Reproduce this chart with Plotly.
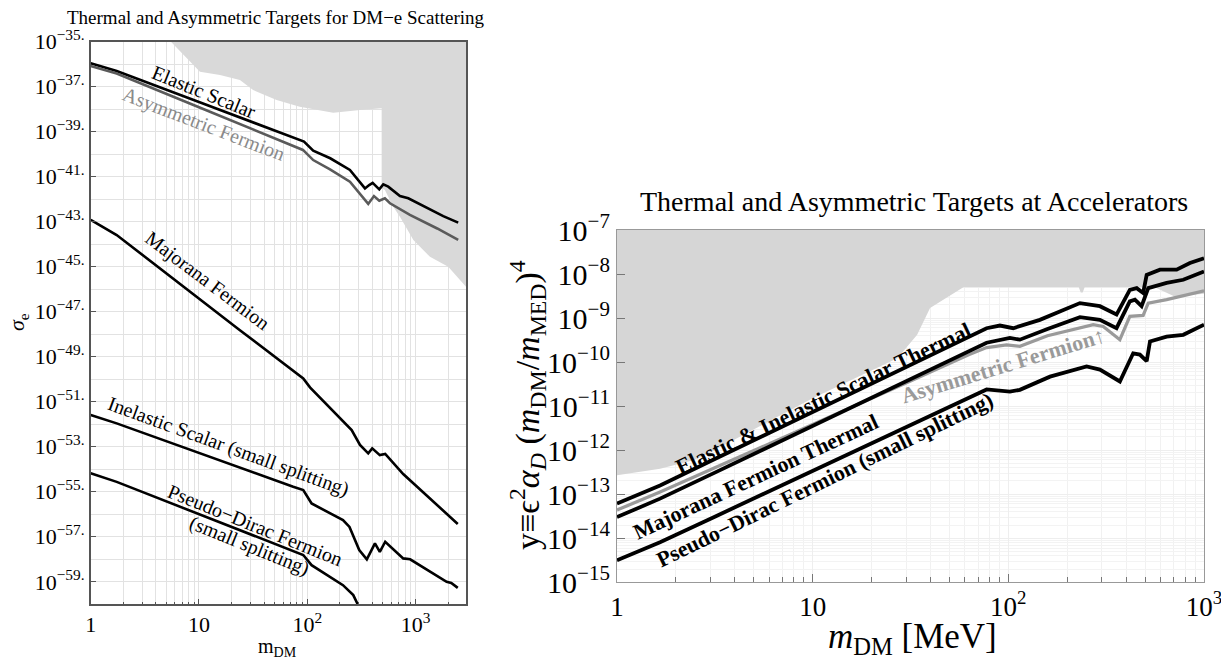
import numpy as np
import plotly.graph_objects as go

# ---------------- Left panel: sigma_e vs m_DM (values stored as log10) ----------------
elastic_logm = [0, 0.24, 1.0, 1.5, 1.87, 1.97, 2.055, 2.212, 2.394, 2.456, 2.533, 2.572, 2.604, 2.665, 2.702, 2.748, 2.856, 2.933, 3.1, 3.256, 3.394]
elastic_logs = [-35.96, -36.30, -37.68, -38.58, -39.25, -39.44, -39.84, -40.18, -40.70, -41.07, -41.52, -41.37, -41.27, -41.56, -41.34, -41.44, -41.86, -41.96, -42.36, -42.75, -43.04]

asym_logm = [0, 0.24, 1.0, 1.5, 1.87, 1.96, 2.055, 2.21, 2.394, 2.487, 2.563, 2.616, 2.665, 2.717, 2.764, 2.948, 3.2, 3.394]
asym_logs = [-36.08, -36.41, -37.91, -38.90, -39.63, -39.81, -40.26, -40.67, -41.22, -41.74, -42.21, -41.86, -42.07, -41.96, -42.18, -42.70, -43.30, -43.81]

major_logm = [0, 0.24, 1.378, 1.963, 2.025, 2.30, 2.41, 2.487, 2.563, 2.60, 2.67, 2.72, 2.886, 3.39]
major_logs = [-42.92, -43.59, -47.82, -49.96, -50.36, -51.69, -52.26, -52.92, -53.29, -53.07, -53.37, -53.32, -54.21, -56.43]

inel_logm = [0, 0.24, 1.87, 1.963, 2.04, 2.33, 2.39, 2.48, 2.55, 2.625, 2.67, 2.72, 2.886, 2.95, 3.287, 3.33, 3.39]
inel_logs = [-51.59, -51.96, -54.78, -54.92, -55.52, -56.26, -56.56, -57.59, -58.00, -57.29, -57.67, -57.22, -57.96, -58.00, -59.00, -59.05, -59.27]

pd_logm = [0, 0.24, 1.963, 2.04, 2.33, 2.425, 2.47, 2.49]
pd_logs = [-54.18, -54.56, -57.81, -58.26, -59.15, -59.59, -60.04, -60.30]

excl_left_logm = [0.741, 1.009, 1.194, 1.378, 1.50, 1.717, 1.93, 2.24, 2.487, 2.687, 2.687, 2.717, 2.794, 2.856, 2.98, 3.133, 3.302, 3.466, 3.466]
excl_left_logs = [-35.0, -36.33, -36.48, -36.70, -37.15, -37.59, -37.89, -38.16, -38.04, -37.96, -41.50, -41.59, -42.33, -42.78, -43.81, -44.56, -45.00, -45.89, -35.0]

# ---------------- Right panel: y vs m_DM (values stored as log10) ----------------
r_scalar_logm = [0, 0.22, 0.5, 1.0, 1.5, 1.8, 1.889, 1.957, 2.025, 2.161, 2.366, 2.468, 2.553, 2.621, 2.656, 2.689, 2.707, 2.775, 2.86, 2.928, 3.0]
r_scalar_logy = [-13.21, -12.80, -12.20, -11.13, -10.06, -9.42, -9.23, -9.17, -9.23, -9.04, -8.66, -8.73, -8.92, -8.36, -8.32, -8.43, -8.02, -7.90, -7.90, -7.75, -7.64]

r_major_logm = [0, 0.22, 0.5, 1.0, 1.5, 1.8, 1.889, 2.008, 2.059, 2.2, 2.366, 2.468, 2.553, 2.621, 2.647, 2.681, 2.715, 2.809, 2.894, 3.0]
r_major_logy = [-13.52, -13.10, -12.51, -11.45, -10.39, -9.75, -9.56, -9.45, -9.49, -9.25, -8.98, -9.04, -9.23, -8.62, -8.58, -8.73, -8.32, -8.20, -8.13, -7.94]

r_asym_logm = [0, 0.22, 0.5, 1.0, 1.5, 1.8, 1.889, 1.991, 2.059, 2.2, 2.434, 2.485, 2.57, 2.621, 2.689, 2.715, 2.809, 3.0]
r_asym_logy = [-13.36, -12.95, -12.40, -11.42, -10.43, -9.83, -9.67, -9.61, -9.64, -9.40, -9.15, -9.19, -9.49, -8.96, -8.94, -8.66, -8.58, -8.38]

r_pd_logm = [0, 0.22, 0.5, 1.0, 1.5, 1.8, 1.889, 2.008, 2.059, 2.213, 2.40, 2.468, 2.57, 2.638, 2.672, 2.707, 2.724, 2.809, 2.894, 3.0]
r_pd_logy = [-14.50, -14.09, -13.51, -12.47, -11.43, -10.80, -10.62, -10.67, -10.63, -10.33, -10.10, -10.17, -10.44, -9.80, -9.83, -9.98, -9.53, -9.42, -9.38, -9.15]

excl_right_logm = [0, 0.22, 0.39, 0.475, 1.0, 1.433, 1.534, 1.60, 1.77, 2.36, 2.37, 2.38, 2.39, 2.748, 2.85, 3.0, 3.0, 0]
excl_right_logy = [-12.57, -12.42, -12.23, -12.05, -10.82, -9.91, -9.38, -8.77, -8.30, -8.30, -8.42, -8.42, -8.30, -8.30, -8.51, -8.45, -7.0, -7.0]

SERIF = "Liberation Serif, Times New Roman, serif"
W, H, OFF = 1229, 662, 8  # page body margin shifts the figure by OFF px


def pw(a):
    return [10.0 ** v for v in a]


def PX(px):
    return (px - OFF) / W


def PY(py):
    return 1 - (py - OFF) / H


fig = go.Figure()

# left exclusion region
fig.add_trace(go.Scatter(x=pw(excl_left_logm), y=pw(excl_left_logs), fill="toself",
                         fillcolor="#d9d9d9", line=dict(width=0), mode="lines",
                         hoverinfo="skip", xaxis="x", yaxis="y"))
for lm, ls, col in [(elastic_logm, elastic_logs, "black"),
                    (asym_logm, asym_logs, "#5a5a5a"),
                    (major_logm, major_logs, "black"),
                    (inel_logm, inel_logs, "black"),
                    (pd_logm, pd_logs, "black")]:
    fig.add_trace(go.Scatter(x=pw(lm), y=pw(ls), mode="lines",
                             line=dict(color=col, width=2.6), xaxis="x", yaxis="y"))

# right exclusion region
fig.add_trace(go.Scatter(x=pw(excl_right_logm), y=pw(excl_right_logy), fill="toself",
                         fillcolor="#d6d6d6", line=dict(width=0), mode="lines",
                         hoverinfo="skip", xaxis="x2", yaxis="y2"))
for lm, ly, col in [(r_asym_logm, r_asym_logy, "#9a9a9a"),
                    (r_scalar_logm, r_scalar_logy, "black"),
                    (r_major_logm, r_major_logy, "black"),
                    (r_pd_logm, r_pd_logy, "black")]:
    fig.add_trace(go.Scatter(x=pw(lm), y=pw(ly), mode="lines",
                             line=dict(color=col, width=3.8 if col == "black" else 3.2),
                             xaxis="x2", yaxis="y2"))

# ---------------- axes ----------------
left_xt = [1, 10, 100, 1000]
left_xtt = ["1", "10", "10<sup>2</sup>", "10<sup>3</sup>"]
left_xminor = [k * 10 ** d for d in range(0, 4) for k in range(2, 10) if k * 10 ** d < 2900]
left_yexp = list(range(-35, -60, -2))
left_yt = [10.0 ** e for e in left_yexp]
left_ytt = ["10<sup>\u2212%d.</sup>" % (-e) for e in left_yexp]
left_yminor = [10.0 ** e for e in range(-36, -60, -2)]

right_xminor = [k * 10 ** d for d in range(0, 3) for k in range(2, 10)]
right_yexp = list(range(-7, -16, -1))
right_yt = [10.0 ** e for e in right_yexp]
right_ytt = ["10<sup>\u2212%d</sup>" % (-e) for e in right_yexp]
right_yminor = [k * 10.0 ** e for e in range(-15, -7) for k in range(2, 10)]

axis_font = dict(family=SERIF, size=22, color="black")

fig.update_layout(
    template="none",
    width=W, height=H, margin=dict(l=0, r=0, t=0, b=0, pad=0, autoexpand=False),
    paper_bgcolor="white", plot_bgcolor="white", showlegend=False,
    xaxis=dict(type="log", range=[0, 3.466], domain=[PX(90.7), PX(466)], anchor="y", automargin=False,
               showline=True, linecolor="#555", linewidth=1.5, mirror=True,
               ticks="inside", ticklen=6, tickcolor="#555",
               tickmode="array", tickvals=left_xt, ticktext=left_xtt,
               showgrid=True, gridcolor="#e2e2e2", gridwidth=1,
               minor=dict(tickmode="array", tickvals=left_xminor, ticks="inside", ticklen=3,
                          tickcolor="#555", showgrid=True, gridcolor="#e2e2e2"),
               tickfont=axis_font, zeroline=False),
    yaxis=dict(type="log", range=[-60, -35], domain=[PY(604.3), PY(41.7)], anchor="x", automargin=False,
               showline=True, linecolor="#555", linewidth=1.5, mirror=True,
               ticks="inside", ticklen=6, tickcolor="#555",
               tickmode="array", tickvals=left_yt, ticktext=left_ytt,
               showgrid=True, gridcolor="#e2e2e2",
               minor=dict(tickmode="array", tickvals=left_yminor, ticks="",
                          showgrid=True, gridcolor="#e2e2e2"),
               tickfont=axis_font, zeroline=False),
    xaxis2=dict(type="log", range=[0, 3], domain=[PX(617), PX(1204)], anchor="y2", automargin=False,
                showline=True, linecolor="#999", linewidth=1.2, mirror=True,
                ticks="inside", ticklen=8, tickcolor="#777",
                tickmode="array", tickvals=left_xt, ticktext=left_xtt,
                showgrid=True, gridcolor="#eeeeee",
                minor=dict(tickmode="array", tickvals=right_xminor, ticks="inside", ticklen=5,
                           tickcolor="#777", showgrid=True, gridcolor="#f1f1f1"),
                tickfont=dict(family=SERIF, size=27, color="black"), zeroline=False),
    yaxis2=dict(type="log", range=[-15, -7], domain=[PY(582.3), PY(230)], anchor="x2", automargin=False,
                showline=True, linecolor="#999", linewidth=1.2, mirror=True,
                ticks="inside", ticklen=8, tickcolor="#777",
                tickmode="array", tickvals=right_yt, ticktext=right_ytt,
                showgrid=True, gridcolor="#eeeeee",
                minor=dict(tickmode="array", tickvals=right_yminor, ticks="",
                           showgrid=True, gridcolor="#f3f3f3"),
                tickfont=dict(family=SERIF, size=30, color="black"), zeroline=False),
)

# ---------------- text ----------------
annots = []


def paper_text(txt, px, py, size, angle=0, color="black"):
    return dict(text=txt, x=PX(px), y=PY(py), xref="paper", yref="paper",
                xanchor="center", yanchor="middle", showarrow=False, textangle=angle,
                font=dict(family=SERIF, size=size, color=color))


annots.append(paper_text("Thermal and Asymmetric Targets for DM\u2212e Scattering", 276, 17, 19))
annots.append(paper_text("m<sub>DM</sub>", 277, 647, 20))
annots.append(paper_text("<i>\u03c3</i><sub>e</sub>", 18, 322, 22, angle=-90))
annots.append(paper_text("Thermal and Asymmetric Targets at Accelerators", 914, 201, 28))
annots.append(paper_text("<i>m</i><sub>DM</sub> [MeV]", 912, 638, 35))
annots.append(paper_text("y\u2261\u03f5<sup>2</sup><i>\u03b1</i><sub><i>D</i></sub> (<i>m</i><sub>DM</sub>/<i>m</i><sub>MED</sub>)<sup>4</sup>",
                         528, 405, 34, angle=-90))

# curve labels (data coordinates: [m_DM, value])
left_labels = [("Elastic Scalar", 11.2, 10 ** -37.24, 22, "black"),
               ("Asymmetric Fermion", 11.2, 10 ** -38.66, 21, "#8a8a8a"),
               ("Majorana Fermion", 11.9, 10 ** -45.6, 37, "black"),
               ("Inelastic Scalar (small splitting)", 18.6, 10 ** -52.98, 20, "black"),
               ("Pseudo\u2212Dirac Fermion", 32.9, 10 ** -56.49, 22, "black"),
               ("(small splitting)", 29.0, 10 ** -57.38, 22, "black")]
for txt, mx, vy, ang, col in left_labels:
    annots.append(dict(text=txt, x=np.log10(mx), y=np.log10(vy), xref="x", yref="y", showarrow=False,
                       xanchor="center", yanchor="middle",
                       textangle=ang, font=dict(family=SERIF, size=20, color=col)))

right_labels = [("<b>Elastic &amp; Inelastic Scalar Thermal</b>", 11.3, 10 ** -10.82, -25.5, "black"),
                ("<b>Majorana Fermion Thermal</b>", 5.13, 10 ** -12.59, -25, "black"),
                ("<b>Pseudo\u2212Dirac Fermion (small splitting)</b>", 11.56, 10 ** -12.66, -26, "black"),
                ("<b>Asymmetric Fermion\u2191</b>", 93.8, 10 ** -10.07, -17, "#9a9a9a")]
for txt, mx, vy, ang, col in right_labels:
    annots.append(dict(text=txt, x=np.log10(mx), y=np.log10(vy), xref="x2", yref="y2", showarrow=False,
                       xanchor="center", yanchor="middle",
                       textangle=ang, font=dict(family=SERIF, size=22, color=col)))

fig.update_layout(annotations=annots)

fig.write_html("out.html")
